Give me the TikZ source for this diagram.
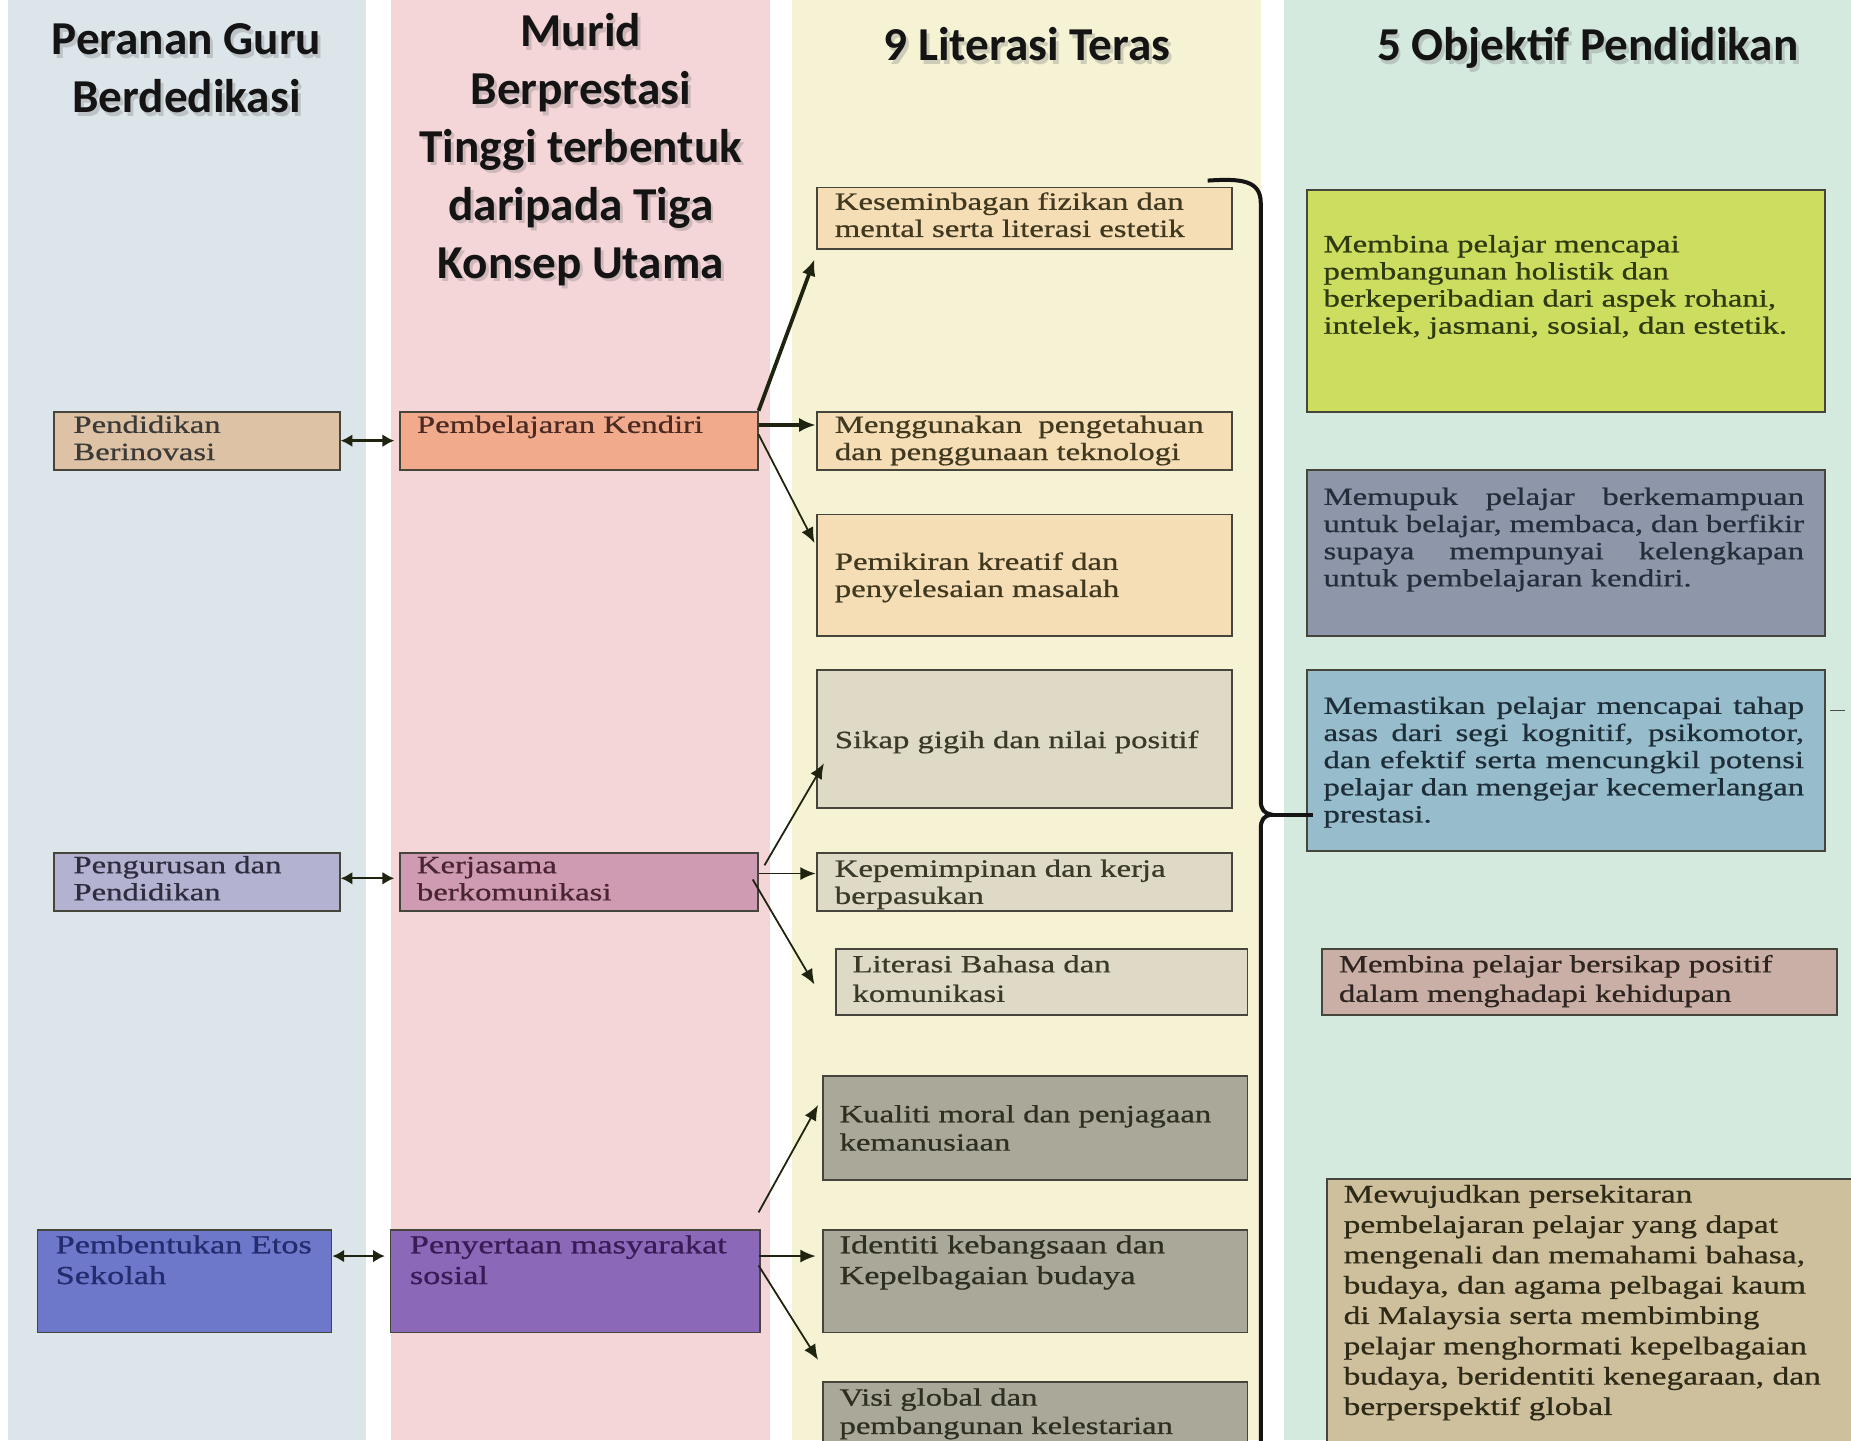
\documentclass[tikz,border=0pt]{standalone}
\usepackage{fontspec}
\setmainfont{Liberation Serif}
\newfontfamily\bodyfont[FakeStretch=1.32,FakeBold=0.7]{Liberation Serif}
\newfontfamily\ttlfont{Carlito}
\usetikzlibrary{arrows.meta,calc}
\hyphenpenalty=10000
\exhyphenpenalty=10000
\definecolor{bgA}{HTML}{DCE5E9}
\definecolor{bgB}{HTML}{F4D5D8}
\definecolor{bgC}{HTML}{F5F3D4}
\definecolor{bgD}{HTML}{D5EADF}
\definecolor{bxline}{HTML}{45453B}
\definecolor{arrc}{HTML}{1E2410}
\definecolor{cPB}{HTML}{DDC2A6}
\definecolor{cPD}{HTML}{B3B2D0}
\definecolor{cPE}{HTML}{6D78CB}
\definecolor{cPK}{HTML}{F1AB8C}
\definecolor{cKB}{HTML}{CE9BB2}
\definecolor{cPM}{HTML}{8B68B8}
\definecolor{cKa}{HTML}{F5DEB6}
\definecolor{cKb}{HTML}{DFDAC6}
\definecolor{cKc}{HTML}{A9A899}
\definecolor{cOa}{HTML}{CCDD5F}
\definecolor{cOb}{HTML}{8D97A9}
\definecolor{cOc}{HTML}{97BCCB}
\definecolor{cOd}{HTML}{C9AFA6}
\definecolor{cOe}{HTML}{CFC09D}
\definecolor{tA}{HTML}{3B3A36}
\definecolor{tB}{HTML}{2E2D40}
\definecolor{tC}{HTML}{232C6E}
\definecolor{tD}{HTML}{4A2A22}
\definecolor{tE}{HTML}{4A2430}
\definecolor{tF}{HTML}{3A1B55}
\definecolor{tG}{HTML}{40391F}
\definecolor{tH}{HTML}{3A3A2A}
\definecolor{tI}{HTML}{2E2E22}
\definecolor{tJ}{HTML}{2E3A10}
\definecolor{tK}{HTML}{262D3A}
\definecolor{tL}{HTML}{1E2E38}
\definecolor{tM}{HTML}{2E2420}
\definecolor{tN}{HTML}{2E2A18}
\tikzset{
  bx/.style={draw=bxline,line width=1.6pt,inner sep=0pt,anchor=north west},
  tx/.style={inner sep=0pt,anchor=north west,align=left,
    font=\bodyfont\fontsize{21}{23}\selectfont},
  txm/.style={tx,font=\bodyfont\fontsize{21}{24}\selectfont},
  txw/.style={tx,font=\bodyfont\fontsize{21}{25}\selectfont},
  txb/.style={tx,font=\bodyfont\fontsize{22}{26}\selectfont},
  txo/.style={tx,font=\bodyfont\fontsize{21.5}{25.7}\selectfont},
  txj/.style={tx,text width=407pt,align=justify},
  ttl/.style={inner sep=0pt,anchor=north,align=center,text=black!92,
    font=\ttlfont\bfseries\fontsize{40}{49}\selectfont},
  ttlsh/.style={ttl,text=black!55,opacity=.3},
  thickarr/.style={draw=arrc,line width=3.2pt,-{Latex[length=14pt,width=12pt]}},
  thinarr/.style={draw=arrc,line width=1.5pt,-{Latex[length=13pt,width=11pt]}},
  dblarr/.style={draw=arrc,line width=2pt,{Latex[length=10pt,width=11pt]}-{Latex[length=10pt,width=11pt]}},
  bracel/.style={draw=black!92,line width=3.4pt},
}
\begin{document}
\begin{tikzpicture}[x=1pt,y=-1pt]
\useasboundingbox (0,0) rectangle (1568,1220);
\clip (0,0) rectangle (1568,1220);
\fill[white] (0,0) rectangle (1568,1220);
% column backgrounds
\fill[bgA] (7,0) rectangle (310,1220);
\fill[bgB] (331,0) rectangle (652,1220);
\fill[bgC] (671,0) rectangle (1068,1220);
\fill[bgD] (1088,0) rectangle (1568,1220);
% titles
\node[ttlsh] (t1s) at (160.5,15) {\strut Peranan Guru\\Berdedikasi};
\node[ttl] (t1) at (158,12) {\strut Peranan Guru\\Berdedikasi};
\node[ttlsh] (t2s) at (494.5,8) {\strut Murid\\Berprestasi\\Tinggi terbentuk\\daripada Tiga\\Konsep Utama};
\node[ttl] (t2) at (492,5) {\strut Murid\\Berprestasi\\Tinggi terbentuk\\daripada Tiga\\Konsep Utama};
\node[ttlsh] (t3s) at (872.5,20) {\strut 9 Literasi Teras};
\node[ttl] (t3) at (870,17) {\strut 9 Literasi Teras};
\node[ttlsh] (t4s) at (1347.5,20) {\strut 5 Objektif Pendidikan};
\node[ttl] (t4) at (1345,17) {\strut 5 Objektif Pendidikan};
% column 1 boxes
\node[bx,fill=cPB,minimum width=242pt,minimum height=49pt] (pb) at (45,348) {};
\node[bx,fill=cPD,minimum width=242pt,minimum height=49pt] (pd) at (45,722) {};
\node[bx,fill=cPE,minimum width=249pt,minimum height=87pt] (pe) at (31,1041) {};
\node[tx,text=tA] (pbt) at (62,350.4) {\strut Pendidikan\\Berinovasi};
\node[tx,text=tB] (pdt) at (62,723.4) {\strut Pengurusan dan\\Pendidikan};
\node[txb,text=tC] (pet) at (47,1043.3) {\strut Pembentukan Etos\\Sekolah};
% column 2 boxes
\node[bx,fill=cPK,minimum width=303pt,minimum height=49pt] (pk) at (338,348) {};
\node[bx,fill=cKB,minimum width=303pt,minimum height=49pt] (kb) at (338,722) {};
\node[bx,fill=cPM,minimum width=313pt,minimum height=87pt] (pm) at (330,1041) {};
\node[tx,text=tD] (pkt) at (353,350.4) {\strut Pembelajaran Kendiri};
\node[tx,text=tE] (kbt) at (353,723.4) {\strut Kerjasama\\berkomunikasi};
\node[txb,text=tF] (pmt) at (347,1043.3) {\strut Penyertaan masyarakat\\sosial};
% column 3 boxes
\node[bx,fill=cKa,minimum width=352pt,minimum height=52pt] (k1) at (691,158) {};
\node[bx,fill=cKa,minimum width=352pt,minimum height=49pt] (k2) at (691,348) {};
\node[bx,fill=cKa,minimum width=352pt,minimum height=103pt] (k3) at (691,435) {};
\node[bx,fill=cKb,minimum width=352pt,minimum height=117pt] (k4) at (691,567) {};
\node[bx,fill=cKb,minimum width=352pt,minimum height=49pt] (k5) at (691,722) {};
\node[bx,fill=cKb,minimum width=349pt,minimum height=56pt] (k6) at (707,803) {};
\node[bx,fill=cKc,minimum width=360pt,minimum height=88pt] (k7) at (696,911) {};
\node[bx,fill=cKc,minimum width=360pt,minimum height=87pt] (k8) at (696,1041) {};
\node[bx,fill=cKc,minimum width=360pt,minimum height=80pt] (k9) at (696,1170) {};
\node[tx,text=tG] (k1t) at (707,161.4) {\strut Keseminbagan fizikan dan\\mental serta literasi estetik};
\node[tx,text=tG] (k2t) at (707,350.4) {\strut Menggunakan\ \ pengetahuan\\dan penggunaan teknologi};
\node[tx,text=tG] (k3t) at (707,466.4) {\strut Pemikiran kreatif dan\\penyelesaian masalah};
\node[tx,text=tH] (k4t) at (707,617.4) {\strut Sikap gigih dan nilai positif};
\node[tx,text=tH] (k5t) at (707,726.4) {\strut Kepemimpinan dan kerja\\berpasukan};
\node[txw,text=tH] (k6t) at (722,806) {\strut Literasi Bahasa dan\\komunikasi};
\node[txm,text=tI] (k7t) at (711,933.7) {\strut Kualiti moral dan penjagaan\\kemanusiaan};
\node[txb,text=tI] (k8t) at (711,1043.3) {\strut Identiti kebangsaan dan\\Kepelbagaian budaya};
\node[txm,text=tI] (k9t) at (711,1173.7) {\strut Visi global dan\\pembangunan kelestarian};
% column 4 boxes
\node[bx,fill=cOa,minimum width=439pt,minimum height=188pt] (o1) at (1106,160) {};
\node[bx,fill=cOb,minimum width=439pt,minimum height=141pt] (o2) at (1106,397) {};
\node[bx,fill=cOc,minimum width=439pt,minimum height=153pt] (o3) at (1106,567) {};
\node[bx,fill=cOd,minimum width=436pt,minimum height=56pt] (o4) at (1119,803) {};
\node[bx,fill=cOe,minimum width=460pt,minimum height=240pt] (o5) at (1123,998) {};
\node[tx,text=tJ] (o1t) at (1121,197.4) {\strut Membina pelajar mencapai\\pembangunan holistik dan\\berkeperibadian dari aspek rohani,\\intelek, jasmani, sosial, dan estetik.};
\node[txj,text=tK] (o2t) at (1121,411.4) {\strut Memupuk pelajar berkemampuan\linebreak untuk belajar, membaca, dan berfikir\linebreak supaya mempunyai kelengkapan\linebreak untuk pembelajaran kendiri.};
\node[txj,text=tL] (o3t) at (1121,588.4) {\strut Memastikan pelajar mencapai tahap\linebreak asas dari segi kognitif, psikomotor,\linebreak dan efektif serta mencungkil potensi\linebreak pelajar dan mengejar kecemerlangan\linebreak prestasi.};
\node[txw,text=tM] (o4t) at (1134,806) {\strut Membina pelajar bersikap positif\\dalam menghadapi kehidupan};
\node[txo,text=tN] (o5t) at (1138,1000.5) {\strut Mewujudkan persekitaran\\pembelajaran pelajar yang dapat\\mengenali dan memahami bahasa,\\budaya, dan agama pelbagai kaum\\di Malaysia serta membimbing\\pelajar menghormati kepelbagaian\\budaya, beridentiti kenegaraan, dan\\berperspektif global};
% double arrows
\draw[dblarr] (pb.east) -- ($(pk.west)+(-4,0)$);
\draw[dblarr] ($(pd.north east)+(0,22)$) -- ($(kb.north west)+(-4,22)$);
\draw[dblarr] ($(pe.north east)+(0,23)$) -- ($(pm.north west)+(-4,23)$);
% arrows to literacies
\draw[thickarr] (pk.north east) -- ($(k1.south west)+(-1,8)$);
\draw[thickarr] ($(pk.north east)+(0,12)$) -- ($(k2.north west)+(0,12)$);
\draw[thinarr] ($(pk.north east)+(0,20)$) -- ($(k3.north west)+(-1,25)$);
\draw[thinarr] ($(kb.north east)+(5,11)$) -- ($(k4.south west)+(7,-39)$);
\draw[thinarr] ($(kb.north east)+(0,18)$) -- ($(k5.north west)+(0,18)$);
\draw[thinarr] ($(kb.north east)+(-5,23)$) -- ($(k6.north west)+(-17,31)$);
\draw[thinarr] ($(pm.north east)+(-2,-14)$) -- ($(k7.north west)+(-3,25)$);
\draw[thinarr] ($(pm.north east)+(-2,23)$) -- ($(k8.north west)+(-5,23)$);
\draw[thinarr] ($(pm.north east)+(-2,31)$) -- ($(k9.north west)+(-3,-18)$);
% brace
\draw[bracel] (1023,153) .. controls (1052,151) and (1068,153) .. (1068,172)
  -- (1068,678) .. controls (1068,686) and (1071,689) .. (1077,690) coordinate (tip)
  .. controls (1071,691) and (1068,694) .. (1068,702) -- (1068,1240);
\draw[bracel] (tip) -- ($(o3.north west)+(6,123)$);
\draw[draw=black!70,line width=1.3pt] ($(o3.north east)+(4,35)$) -- ++(12,0);
\end{tikzpicture}
\end{document}
